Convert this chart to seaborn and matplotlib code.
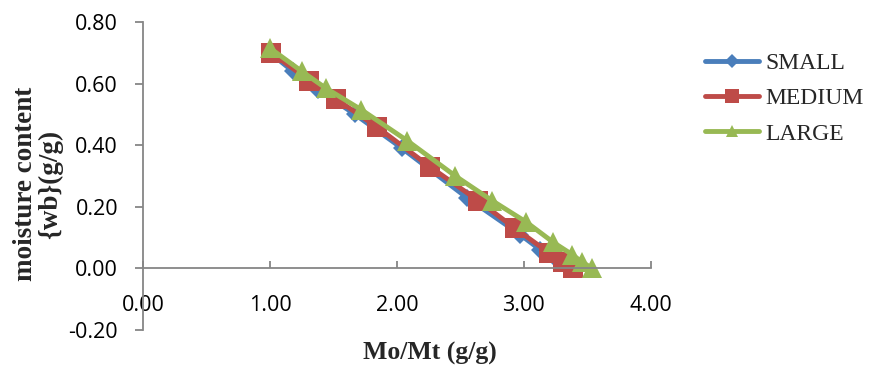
import numpy as np
import pandas as pd
import seaborn as sns
import matplotlib
matplotlib.use("Agg")
import matplotlib.pyplot as plt
from matplotlib.lines import Line2D

# Drying curves: moisture content (wet basis) versus Mo/Mt ratio
small_x = [1.00, 1.18, 1.38, 1.67, 2.04, 2.55, 2.97, 3.13, 3.28, 3.35]
small_y = [0.70, 0.64, 0.58, 0.50, 0.39, 0.23, 0.11, 0.06, 0.02, 0.00]

medium_x = [1.01, 1.31, 1.52, 1.84, 2.26, 2.64, 2.93, 3.20, 3.31, 3.39]
medium_y = [0.70, 0.61, 0.55, 0.46, 0.33, 0.22, 0.13, 0.05, 0.02, 0.00]

large_x = [1.00, 1.25, 1.44, 1.72, 2.08, 2.46, 2.75, 3.02, 3.23, 3.38, 3.46, 3.54]
large_y = [0.715, 0.64, 0.585, 0.515, 0.415, 0.30, 0.22, 0.15, 0.085, 0.045, 0.02, 0.00]

series_names = ["SMALL", "MEDIUM", "LARGE"]
x_ticks = [0.0, 1.0, 2.0, 3.0, 4.0]
y_ticks = [-0.20, 0.00, 0.20, 0.40, 0.60, 0.80]

colors = {"SMALL": "#4A7EBB", "MEDIUM": "#BE4B48", "LARGE": "#98B954"}
markers = {"SMALL": "D", "MEDIUM": "s", "LARGE": "^"}
msizes = {"SMALL": 9, "MEDIUM": 14, "LARGE": 15}

frames = []
for name, xs, ys in zip(series_names, [small_x, medium_x, large_x],
                        [small_y, medium_y, large_y]):
    frames.append(pd.DataFrame({"ratio": xs, "mc": ys, "size": name,
                                "order": np.arange(len(xs))}))
df = pd.concat(frames, ignore_index=True)

sns.set_theme(style="white")
plt.rcParams["font.family"] = ["Open Sans", "DejaVu Sans"]

fig = plt.figure(figsize=(8.69, 3.76), dpi=100)
ax = fig.add_axes([0.1646, 0.1223, 0.749 - 0.1646, 0.9415 - 0.1223])

for name in series_names:
    sub = df[df["size"] == name]
    sns.lineplot(data=sub, x="ratio", y="mc", ax=ax, sort=False,
                 color=colors[name], linewidth=3.5, marker=markers[name],
                 markersize=msizes[name], markeredgewidth=0,
                 legend=False)

ax.set_xlim(0, 4)
ax.set_ylim(-0.20, 0.80)
ax.set_xticks(x_ticks)
ax.set_yticks(y_ticks)
ax.set_xticklabels([f"{v:.2f}" for v in x_ticks])
ax.set_yticklabels([f"{v:.2f}" for v in y_ticks])

axis_grey = "#868686"
for side in ["top", "right"]:
    ax.spines[side].set_visible(False)
ax.spines["bottom"].set_position(("data", 0))
for side in ["left", "bottom"]:
    ax.spines[side].set_color(axis_grey)
    ax.spines[side].set_linewidth(1.3)

ax.tick_params(axis="x", direction="in", length=5, width=1.3, color=axis_grey,
               pad=19, labelsize=15.5, labelcolor="black")
ax.tick_params(axis="y", direction="out", length=6, width=1.3, color=axis_grey,
               pad=12, labelsize=15.5, labelcolor="black")
ax.tick_params(axis="both", which="both", bottom=True, left=True)

serif = ["Liberation Serif", "DejaVu Serif"]
ax.set_xlabel("Mo/Mt (g/g)", fontsize=18.5, fontweight="bold", family=serif)
ax.xaxis.set_label_coords(0.565, -0.04)
ax.set_ylabel("moisture content\n{wb}(g/g)", fontsize=19.5, fontweight="bold",
              family=serif, linespacing=1.0)
ax.yaxis.set_label_coords(-0.158, 0.474)

handles = [Line2D([0], [0], color=colors[n], linewidth=3.5, marker=markers[n],
                  markersize={"SMALL": 7, "MEDIUM": 10, "LARGE": 9}[n],
                  markeredgewidth=0) for n in series_names]
fig.legend(handles, series_names, loc="upper left",
           bbox_to_anchor=(0.8006, 0.885), frameon=False,
           prop={"family": serif, "size": 17}, handlelength=2.3,
           handletextpad=0.25, labelspacing=0.58, borderaxespad=0)

fig.savefig("out.png", dpi=100)
